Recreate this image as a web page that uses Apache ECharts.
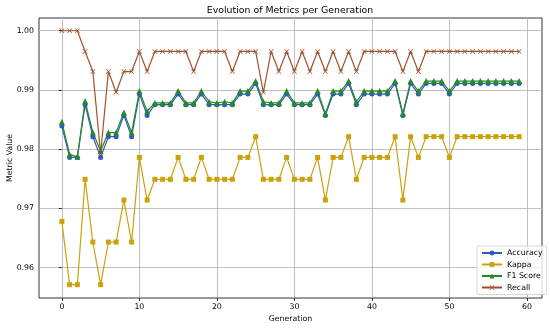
<!DOCTYPE html>
<html>
<head>
<meta charset="utf-8">
<script src="https://cdn.jsdelivr.net/npm/echarts@6/dist/echarts.min.js"></script>
<style>html,body{margin:0;padding:0;background:#fff;}#c{width:550px;height:328px;}</style>
</head>
<body>
<div id="c"></div>
<script>
const generations = Array.from({length: 60}, (_, i) => i);
const accuracy = [0.9839,0.9786,0.9786,0.9875,0.9821,0.9786,0.9821,0.9821,0.9857,0.9821,
  0.9893,0.9857,0.9875,0.9875,0.9875,0.9893,0.9875,0.9875,0.9893,0.9875,
  0.9875,0.9875,0.9875,0.9893,0.9893,0.9911,0.9875,0.9875,0.9875,0.9893,
  0.9875,0.9875,0.9875,0.9893,0.9857,0.9893,0.9893,0.9911,0.9875,0.9893,
  0.9893,0.9893,0.9893,0.9911,0.9857,0.9911,0.9893,0.9911,0.9911,0.9911,
  0.9893,0.9911,0.9911,0.9911,0.9911,0.9911,0.9911,0.9911,0.9911,0.9911];
const kappa = [0.9678,0.9571,0.9571,0.9749,0.9643,0.9571,0.9643,0.9643,0.9714,0.9643,
  0.9786,0.9714,0.9749,0.9749,0.9749,0.9786,0.9749,0.9749,0.9786,0.9749,
  0.9749,0.9749,0.9749,0.9786,0.9786,0.9821,0.9749,0.9749,0.9749,0.9786,
  0.9749,0.9749,0.9749,0.9786,0.9714,0.9786,0.9786,0.9821,0.9749,0.9786,
  0.9786,0.9786,0.9786,0.9821,0.9714,0.9821,0.9786,0.9821,0.9821,0.9821,
  0.9786,0.9821,0.9821,0.9821,0.9821,0.9821,0.9821,0.9821,0.9821,0.9821];
const f1 = [0.9846,0.9791,0.9787,0.9881,0.9828,0.9797,0.9828,0.9828,0.9862,0.9828,
  0.9898,0.9864,0.9878,0.9878,0.9878,0.9898,0.9878,0.9878,0.9898,0.9880,
  0.9878,0.9880,0.9878,0.9898,0.9898,0.9915,0.9880,0.9878,0.9878,0.9898,
  0.9878,0.9878,0.9878,0.9898,0.9860,0.9898,0.9898,0.9915,0.9880,0.9898,
  0.9898,0.9898,0.9898,0.9915,0.9860,0.9915,0.9898,0.9915,0.9915,0.9915,
  0.9898,0.9915,0.9915,0.9915,0.9915,0.9915,0.9915,0.9915,0.9915,0.9915];
const recall = [1.0,1.0,1.0,0.9965,0.9931,0.9792,0.9931,0.9896,0.9931,0.9931,
  0.9965,0.9931,0.9965,0.9965,0.9965,0.9965,0.9965,0.9931,0.9965,0.9965,
  0.9965,0.9965,0.9931,0.9965,0.9965,0.9965,0.9896,0.9965,0.9931,0.9965,
  0.9931,0.9965,0.9931,0.9965,0.9931,0.9965,0.9931,0.9965,0.9931,0.9965,
  0.9965,0.9965,0.9965,0.9965,0.9931,0.9965,0.9931,0.9965,0.9965,0.9965,
  0.9965,0.9965,0.9965,0.9965,0.9965,0.9965,0.9965,0.9965,0.9965,0.9965];
const xTicks = [0, 10, 20, 30, 40, 50, 60];
const yTicks = [0.96, 0.97, 0.98, 0.99, 1.00];
const seriesNames = ['Accuracy', 'Kappa', 'F1 Score', 'Recall'];

const FONT = 'DejaVu Sans';
const colors = ['#3457c6', '#c9a20c', '#228b22', '#a0522d'];
const xPath = 'path://M0,1L1,0L5,4L9,0L10,1L6,5L10,9L9,10L5,6L1,10L0,9L4,5Z';

function mk(name, vals, color, symbol, size) {
  return {
    name: name, type: 'line',
    data: generations.map((g, i) => [g, vals[i]]),
    symbol: symbol, symbolSize: size, showSymbol: true,
    lineStyle: {color: color, width: 1.2},
    itemStyle: {color: color, borderWidth: 0},
    emphasis: {disabled: true},
    animation: false
  };
}

const chart = echarts.init(document.getElementById('c'), null, {renderer: 'canvas'});
chart.setOption({
  animation: false,
  backgroundColor: '#ffffff',
  textStyle: {fontFamily: FONT},
  graphic: [{
    type: 'text', x: 290, y: 11,
    style: {text: 'Evolution of Metrics per Generation', fontFamily: FONT, fontSize: 9.4,
      fill: '#000', textAlign: 'center', textVerticalAlign: 'middle'}
  }],
  grid: {left: 39, right: 8, top: 18, bottom: 30, show: true, borderColor: '#000', borderWidth: 0.8,
    backgroundColor: 'transparent', containLabel: false, outerBoundsMode: 'none'},
  legend: {
    data: seriesNames.map(n => ({name: n})),
    orient: 'vertical', left: 477, top: 246,
    itemWidth: 20, itemHeight: 6, itemGap: 3.5,
    padding: [3, 4, 3, 4],
    backgroundColor: 'rgba(255,255,255,0.8)', borderColor: '#cccccc', borderWidth: 0.8, borderRadius: 2,
    textStyle: {fontFamily: FONT, fontSize: 7.8, color: '#000', padding: [0, 0, 0, 0]}
  },
  xAxis: {
    type: 'value', min: -2.95, max: 61.95,
    name: 'Generation', nameLocation: 'middle', nameGap: 17, nameMoveOverlap: false,
    nameTextStyle: {fontFamily: FONT, fontSize: 7.8, color: '#000'},
    axisLine: {show: false},
    axisTick: {show: true, customValues: xTicks, length: 3, lineStyle: {color: '#000', width: 0.8}},
    axisLabel: {customValues: xTicks, fontFamily: FONT, fontSize: 7.8, color: '#000', margin: 5},
    splitLine: {show: true, lineStyle: {color: '#b0b0b0', width: 0.8}}
  },
  yAxis: {
    type: 'value', min: 0.95485, max: 1.00215,
    name: 'Metric Value', nameLocation: 'middle', nameGap: 25, nameRotate: 90, nameMoveOverlap: false,
    nameTextStyle: {fontFamily: FONT, fontSize: 7.8, color: '#000'},
    axisLine: {show: false},
    axisTick: {show: true, customValues: yTicks, length: 3, lineStyle: {color: '#000', width: 0.8}},
    axisLabel: {customValues: yTicks, fontFamily: FONT, fontSize: 7.8, color: '#000', margin: 5,
      formatter: v => v.toFixed(2)},
    splitLine: {show: true, lineStyle: {color: '#b0b0b0', width: 0.8}}
  },
  series: [
    mk(seriesNames[0], accuracy, colors[0], 'circle', 5),
    mk(seriesNames[1], kappa, colors[1], 'rect', 5),
    mk(seriesNames[2], f1, colors[2], 'triangle', 6),
    mk(seriesNames[3], recall, colors[3], xPath, 5)
  ]
});
</script>
</body>
</html>
